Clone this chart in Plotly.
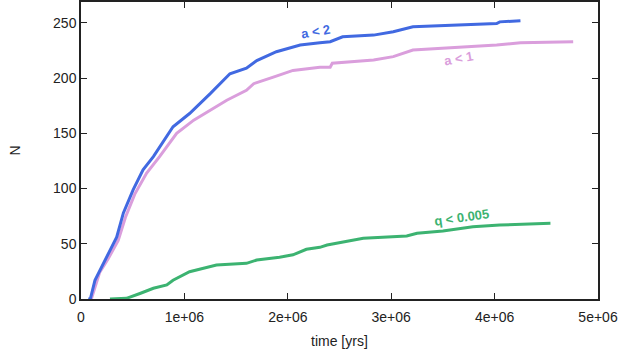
import plotly.graph_objects as go

# cumulative counts
t_a2 = [0.07e6, 0.09e6, 0.135e6, 0.25e6, 0.345e6, 0.41e6, 0.505e6, 0.6e6, 0.7e6, 0.89e6, 1.05e6,
        1.25e6, 1.44e6, 1.6e6, 1.7e6, 1.89e6, 2.12e6, 2.31e6, 2.41e6, 2.53e6, 2.83e6, 3.02e6,
        3.21e6, 4.02e6, 4.05e6, 4.25e6]
n_a2 = [0, 0, 17, 38, 56, 78, 99, 117, 129, 156, 168, 186, 204, 209, 216, 224, 230, 232, 233,
        237.5, 239, 242, 246.5, 249.5, 251, 252]

t_a1 = [0.08e6, 0.1e6, 0.18e6, 0.26e6, 0.36e6, 0.43e6, 0.52e6, 0.635e6, 0.76e6, 0.925e6, 1.09e6,
        1.25e6, 1.41e6, 1.6e6, 1.67e6, 1.86e6, 2.05e6, 2.31e6, 2.41e6, 2.43e6, 2.83e6, 3.02e6,
        3.21e6, 4.02e6, 4.25e6, 4.76e6]
n_a1 = [0, 0, 24, 36, 53, 74, 95, 114, 129, 150, 162, 171, 180, 189, 195, 201, 207, 210, 210,
        213.5, 216.5, 219.5, 225.5, 230, 232, 233]

t_q = [0.28e6, 0.44e6, 0.57e6, 0.7e6, 0.83e6, 0.89e6, 1.05e6, 1.22e6, 1.31e6, 1.6e6, 1.7e6,
       1.92e6, 2.05e6, 2.18e6, 2.31e6, 2.38e6, 2.57e6, 2.73e6, 3.15e6, 3.25e6, 3.5e6, 3.6e6,
       3.79e6, 4.05e6, 4.54e6]
n_q = [0, 0.6, 5, 9.7, 12.7, 17, 24.7, 28.7, 30.8, 32.3, 35.3, 37.8, 40, 45, 46.8, 48.9, 51.9,
       55, 57, 59.5, 61.6, 63, 65.5, 67, 68.5]

series = [
    ("a < 1", t_a1, n_a1, "#DA9EDC"),
    ("a < 2", t_a2, n_a2, "#4169E1"),
    ("q < 0.005", t_q, n_q, "#3CB371"),
]

fig = go.Figure()
for name, t, n, c in series:
    fig.add_trace(go.Scatter(x=t, y=n, mode="lines", name=name,
                             line=dict(color=c, width=3), showlegend=False))

# curve labels
labels = [("a < 2", 2.27e6, 242, "#4169E1", -10),
          ("a < 1", 3.65e6, 218, "#DA9EDC", -10),
          ("q < 0.005", 3.68e6, 74, "#3CB371", -8)]
for txt, x, y, c, ang in labels:
    fig.add_annotation(x=x, y=y, text="<b>" + txt + "</b>", showarrow=False,
                       textangle=ang, font=dict(color=c, size=13))

# axis titles
fig.add_annotation(x=0.5, y=0, xref="paper", yref="paper", yanchor="middle", yshift=-42,
                   text="time [yrs]", showarrow=False, font=dict(size=14, color="#222"))
fig.add_annotation(x=0, y=0.5, xref="paper", yref="paper", xanchor="center", xshift=-67,
                   text="N", textangle=-90, showarrow=False, font=dict(size=14, color="#222"))

axis_style = dict(showline=True, linecolor="#222", linewidth=1.5, mirror="ticks",
                  ticks="inside", ticklen=6, tickcolor="#222", showgrid=False,
                  zeroline=False, automargin=False, tickfont=dict(size=14, color="#222"))

fig.update_xaxes(range=[0, 5e6], tickvals=[0, 1e6, 2e6, 3e6, 4e6, 5e6],
                 ticktext=["0", "1e+06", "2e+06", "3e+06", "4e+06", "5e+06"],
                 ticklabelstandoff=4, **axis_style)
fig.update_yaxes(range=[0, 269], tickvals=[0, 50, 100, 150, 200, 250], **axis_style)

fig.update_layout(width=628, height=353, plot_bgcolor="white", paper_bgcolor="white",
                  font=dict(family="Liberation Sans, Arial, sans-serif"),
                  margin=dict(l=81, r=30, t=2, b=54))

fig.write_html("out.html", config={"displayModeBar": False},
               post_script="document.body.style.margin='0';")
